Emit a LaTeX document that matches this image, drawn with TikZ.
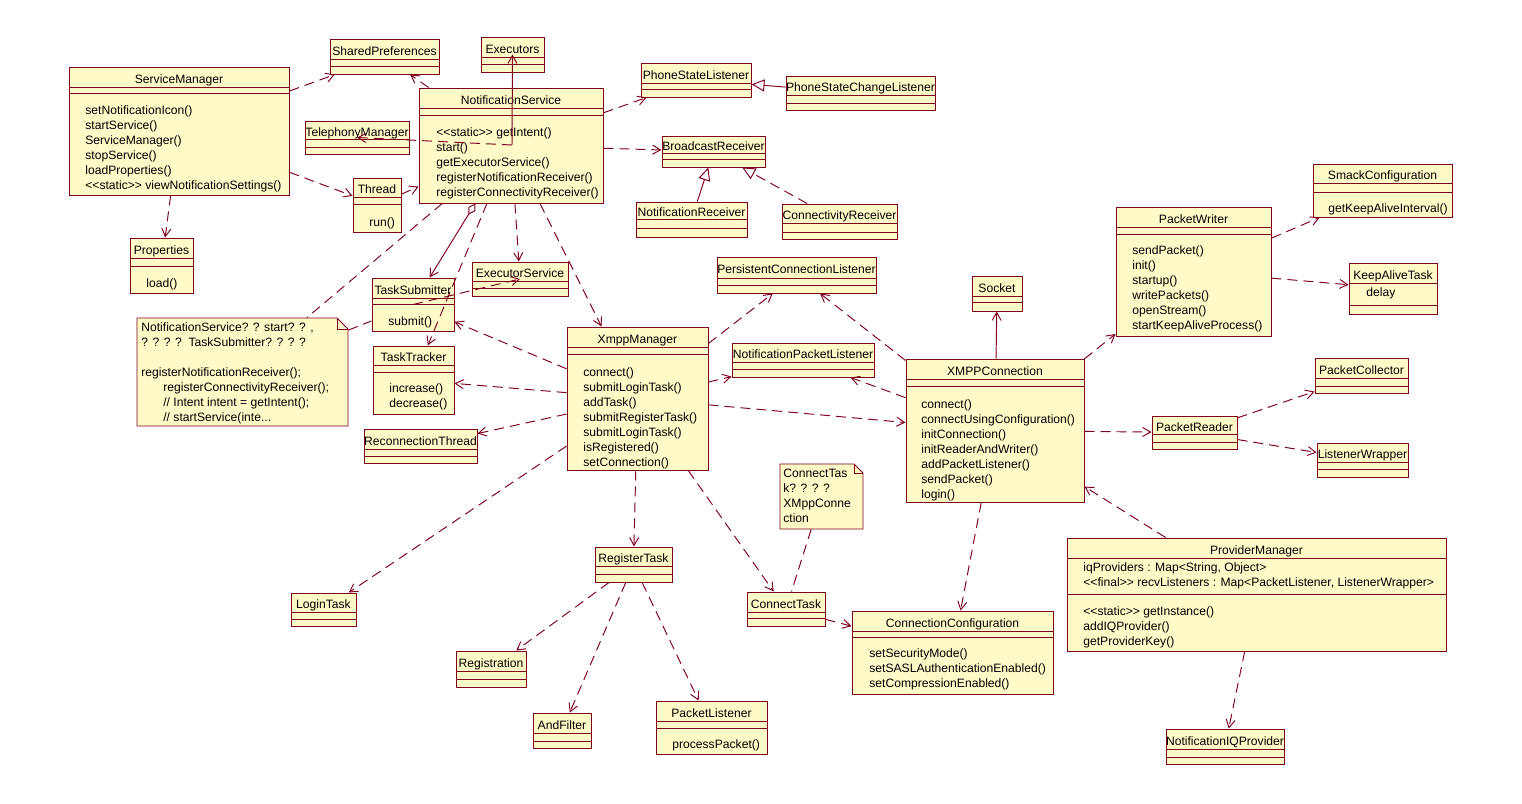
\documentclass[tikz,border=0pt]{standalone}
\usepackage{fontspec}
\setmainfont{Liberation Sans}[Ligatures=TeXOff]
\usetikzlibrary{arrows.meta,calc,fit}

\definecolor{roseline}{RGB}{128,0,32}
\definecolor{rosefill}{RGB}{255,250,200}

% class box: name (= title), left, top, right, bottom, first divider, second divider
\newcommand{\umlclass}[7]{%
  \node[classbox, fit={(#2,#3) (#4,#5)}] (#1) {};
  \draw[classline] (#2,#6) -- (#4,#6) (#2,#7) -- (#4,#7);
  \node[classname] at ({(#2+#4)/2},{(#3+#6)/2}) {#1};
}
% note box with folded corner: name, left, top, right, bottom, fold
\newcommand{\umlnote}[6]{%
  \node[notebox, fit={(#2,#3) (#4,#5)}] (#1) {};
  \filldraw[notefill] (#2,#3) -- ({#4-#6},#3) -- (#4,{#3+#6}) -- (#4,#5) -- (#2,#5) -- cycle;
  \draw[classline] ({#4-#6},#3) -- ({#4-#6},{#3+#6}) -- (#4,{#3+#6});
}
% one member per line, 15px apart
\newcommand{\members}[3]{%
  \foreach \m [count=\k from 0] in {#3}
    \node[member] at (#1,{#2+15*\k}) {\m};
}

\begin{document}
\begin{tikzpicture}[x=0.2mm, y=-0.2mm,
    font=\fontsize{6.9}{8.5}\selectfont,
    classbox/.style = {draw=roseline, fill=rosefill, line width=0.55pt, inner sep=0pt},
    classline/.style = {draw=roseline, line width=0.55pt},
    notebox/.style = {inner sep=0pt},
    notefill/.style = {draw=roseline, fill=rosefill, line width=0.55pt},
    classname/.style = {inner sep=0pt, text height=0.72em, text depth=0pt},
    member/.style = {classname, anchor=west, yshift=0.3mm},
    barb/.style = {-{Straight Barb[length=1.6mm,width=1.8mm]}},
    dep/.style = {roseline, line width=0.55pt, dash pattern=on 2mm off 1.2mm, barb},
    assoc/.style = {roseline, line width=0.55pt, barb},
    aggr/.style = {roseline, line width=0.55pt,
       {Diamond[open,length=2.6mm,width=1.6mm]}-{Straight Barb[length=1.6mm,width=1.8mm]}},
    gen/.style = {roseline, line width=0.55pt, -{Triangle[open,length=2.6mm,width=2.4mm]}},
    real/.style = {gen, dash pattern=on 2mm off 1.2mm},
    noteline/.style = {roseline, line width=0.55pt, dash pattern=on 2mm off 1.2mm}
]
\useasboundingbox (0,0) rectangle (1522,803);
\fill[white] (0,0) rectangle (1522,803);

% service side
\umlclass{SharedPreferences}{330}{39}{439}{74}{59}{66}
\umlclass{Executors}{481}{37}{544}{72}{57}{64}
\umlclass{ServiceManager}{69}{67}{289}{195}{87}{93}
\members{85}{110}{setNotificationIcon(),startService(),ServiceManager(),stopService(),loadProperties(),<<static>> viewNotificationSettings()}
\umlclass{NotificationService}{419}{88}{603}{203}{108}{115}
\members{436}{132}{<<static>> getIntent(),start(),getExecutorService(),registerNotificationReceiver(),registerConnectivityReceiver()}
\umlclass{TelephonyManager}{305}{121}{409}{154}{139}{147}
\umlclass{Thread}{353}{178}{401}{232}{197}{204}
\members{369}{222}{run()}
\umlclass{Properties}{130}{238}{193}{293}{258}{266}
\members{146}{283}{load()}

% receivers and listeners
\umlclass{PhoneStateListener}{641}{63}{751}{97}{83}{89}
\umlclass{PhoneStateChangeListener}{786}{76}{935}{110}{95}{103}
\umlclass{BroadcastReceiver}{662}{136}{765}{167}{153}{159}
\umlclass{NotificationReceiver}{636}{202}{747}{237}{219}{228}
\umlclass{ConnectivityReceiver}{782}{204}{897}{239}{223}{232}

% task handling
\umlclass{TaskSubmitter}{372}{278}{454}{331}{298}{304}
\members{388}{321}{submit()}
\umlclass{ExecutorService}{472}{262}{568}{296}{281}{288}
\umlclass{TaskTracker}{373}{346}{454}{414}{365}{372}
\members{389}{388}{increase(),decrease()}
\umlclass{ReconnectionThread}{364}{429}{477}{463}{449}{456}

\umlnote{ServiceNote}{137}{318}{348}{426}{11}
\members{141}{327}{{NotificationService? ? start? ? ,},? ? ? ?\ \ TaskSubmitter? ? ? ?}
\node[member] at (141,372) {registerNotificationReceiver();};
\node[member] at (163,387) {registerConnectivityReceiver();};
\node[member] at (163,402) {// Intent intent = getIntent();};
\node[member] at (163,417) {// startService(inte...};

% xmpp manager
\umlclass{XmppManager}{567}{327}{708}{470}{347}{354}
\members{583}{372}{connect(),submitLoginTask(),addTask(),submitRegisterTask(),submitLoginTask(),isRegistered(),setConnection()}
\umlclass{PersistentConnectionListener}{717}{257}{876}{293}{278}{285}
\umlclass{NotificationPacketListener}{732}{343}{874}{377}{362}{369}
\umlclass{LoginTask}{291}{593}{356}{626}{612}{619}
\umlclass{RegisterTask}{595}{547}{672}{582}{566}{574}
\umlclass{Registration}{456}{651}{526}{687}{671}{679}
\umlclass{AndFilter}{533}{713}{591}{748}{733}{741}
\umlclass{PacketListener}{656}{701}{767}{754}{721}{728}
\members{672}{744}{processPacket()}
\umlclass{ConnectTask}{747}{592}{825}{626}{612}{618}
\umlnote{ConnectNote}{780}{464}{863}{529}{9}
\members{783}{473}{ConnectTas,k? ? ? ?,XMppConne,ction}

% connection
\umlclass{Socket}{972}{276}{1022}{311}{296}{302}
\umlclass{XMPPConnection}{906}{359}{1084}{502}{379}{386}
\members{921}{404}{connect(),connectUsingConfiguration(),initConnection(),initReaderAndWriter(),addPacketListener(),sendPacket(),login()}
\umlclass{ConnectionConfiguration}{852}{611}{1053}{694}{631}{637}
\members{869}{653}{setSecurityMode(),setSASLAuthenticationEnabled(),setCompressionEnabled()}
\umlclass{PacketWriter}{1116}{207}{1271}{336}{227}{234}
\members{1132}{250}{sendPacket(),init(),startup(),writePackets(),openStream(),startKeepAliveProcess()}
\umlclass{SmackConfiguration}{1313}{164}{1452}{217}{183}{192}
\members{1328}{208}{getKeepAliveInterval()}
\umlclass{KeepAliveTask}{1349}{263}{1437}{314}{283}{305}
\members{1366}{292}{delay}
\umlclass{PacketReader}{1152}{416}{1237}{449}{434}{442}
\umlclass{PacketCollector}{1315}{358}{1408}{393}{378}{386}
\umlclass{ListenerWrapper}{1317}{443}{1408}{477}{462}{469}
\umlclass{ProviderManager}{1067}{538}{1446}{651}{558}{594}
\members{1083}{567}{{iqProviders : Map<String, Object>},{<<final>> recvListeners : Map<PacketListener, ListenerWrapper>}}
\members{1083}{611}{<<static>> getInstance(),addIQProvider(),getProviderKey()}
\umlclass{NotificationIQProvider}{1166}{729}{1284}{764}{749}{757}

% service manager links
\draw[dep] (ServiceManager) -- (SharedPreferences);
\draw[dep] (ServiceManager) -- (Thread);
\draw[dep] (ServiceManager) -- (Properties);
\draw[dep] (Thread) -- (NotificationService);

% notification service links
\draw[dep] (NotificationService) -- (SharedPreferences);
\coordinate (nsbend) at (512,145);
\draw[assoc] (nsbend) -- (Executors.center);
\draw[dep] (nsbend) -- (TelephonyManager.center);
\draw[dep] (NotificationService) -- (PhoneStateListener);
\draw[dep] (NotificationService) -- (BroadcastReceiver);
\draw[aggr] (NotificationService) -- (TaskSubmitter);
\draw[dep] (NotificationService) -- (TaskTracker);
\draw[dep] (NotificationService) -- (ExecutorService);
\draw[dep] (NotificationService) -- (XmppManager);
\draw[noteline] (NotificationService) -- (ServiceNote);
\draw[noteline] (ServiceNote) -- (TaskSubmitter);
\draw[dep] (TaskSubmitter.center) -- (ExecutorService.center);

% inheritance
\draw[gen] (PhoneStateChangeListener) -- (PhoneStateListener);
\draw[gen] (NotificationReceiver) -- (BroadcastReceiver);
\draw[real] (ConnectivityReceiver) -- (BroadcastReceiver);

% xmpp manager links
\draw[dep] (XmppManager) -- (TaskSubmitter);
\draw[dep] (XmppManager) -- (TaskTracker);
\draw[dep] (XmppManager) -- (ReconnectionThread);
\draw[dep] (XmppManager) -- (PersistentConnectionListener);
\draw[dep] (XmppManager) -- (NotificationPacketListener);
\draw[dep] (XmppManager) -- (XMPPConnection);
\draw[dep] (XmppManager) -- (LoginTask);
\draw[dep] (XmppManager) -- (RegisterTask);
\draw[dep] (XmppManager) -- (ConnectTask);
\draw[dep] (RegisterTask) -- (Registration);
\draw[dep] (RegisterTask) -- (AndFilter);
\draw[dep] (RegisterTask) -- (PacketListener);
\draw[noteline] (ConnectNote) -- (ConnectTask);
\draw[dep] (ConnectTask) -- (ConnectionConfiguration);

% connection links
\draw[assoc] (XMPPConnection) -- (Socket);
\draw[dep] (XMPPConnection) -- (PersistentConnectionListener);
\draw[dep] (XMPPConnection) -- (NotificationPacketListener);
\draw[dep] (XMPPConnection) -- (PacketWriter);
\draw[dep] (XMPPConnection) -- (PacketReader);
\draw[dep] (XMPPConnection) -- (ConnectionConfiguration);
\draw[dep] (PacketWriter) -- (SmackConfiguration);
\draw[dep] (PacketWriter) -- (KeepAliveTask);
\draw[dep] (PacketReader) -- (PacketCollector);
\draw[dep] (PacketReader) -- (ListenerWrapper);
\draw[dep] (ProviderManager) -- (XMPPConnection);
\draw[dep] (ProviderManager) -- (NotificationIQProvider);
\end{tikzpicture}
\end{document}
